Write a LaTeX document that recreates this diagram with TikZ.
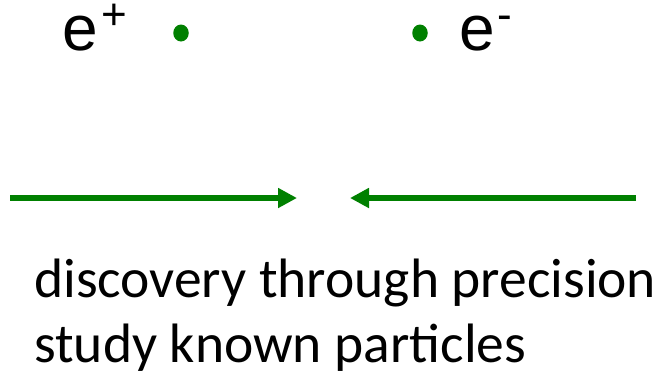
\documentclass[tikz,border=0pt]{standalone}
\usepackage{fontspec}
\setmainfont{Carlito}
\newfontfamily\arialfont{Liberation Sans}
\usetikzlibrary{arrows.meta,shapes.geometric}
\definecolor{dkgreen}{RGB}{0,128,0}
\tikzset{
  particle/.style={inner sep=0pt, anchor=base west, font=\arialfont\fontsize{64}{64}\selectfont},
  dotmark/.style={ellipse, fill=dkgreen, draw=none, inner sep=0pt, minimum width=15.5pt, minimum height=17pt},
  beam/.style={draw=dkgreen, line width=6pt, -{Triangle[length=19pt,width=19pt]}},
  caption/.style={inner sep=0pt, anchor=base west, font=\fontsize{55.5}{66}\selectfont}
}
\newcommand{\supmark}[1]{\raisebox{21pt}[0pt][0pt]{\fontsize{44}{44}\selectfont #1}}
\begin{document}
\begin{tikzpicture}[x=1pt,y=-1pt]
\useasboundingbox (0,0) rectangle (664,376);
\node[particle] (ep) at (62.5,50) {e\kern3pt\supmark{+}};
\node[particle] (em) at (459.5,50) {e\kern2pt\supmark{-}};
\node[dotmark] (d1) at (181,33) {};
\node[dotmark] (d2) at (420,33) {};
\coordinate (a1s) at (10,198);
\coordinate (a1e) at (297,198);
\coordinate (a2s) at (636,198);
\coordinate (a2e) at (350,198);
\draw[beam] (a1s) -- (a1e);
\draw[beam] (a2s) -- (a2e);
\node[caption] (t1) at (34,297) {discovery through precision};
\node[caption] (t2) at (34,362) {study known particles};
\end{tikzpicture}
\end{document}
